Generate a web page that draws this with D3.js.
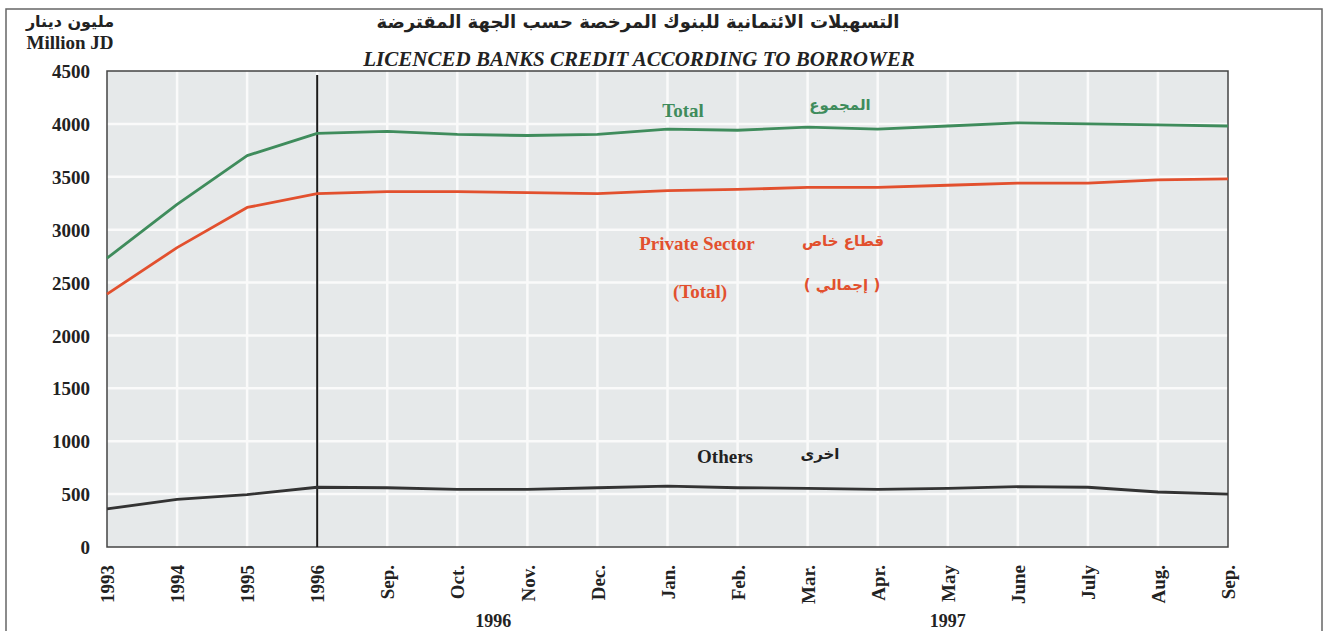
<!DOCTYPE html>
<html>
<head>
<meta charset="utf-8">
<script src="https://cdn.jsdelivr.net/npm/d3@7"></script>
<style>
  body { margin: 0; background: #fff; }
  svg { display: block; }
  text { font-family: "Liberation Serif", "Times New Roman", serif; font-weight: bold; }
  .ar { font-family: "DejaVu Sans", "Noto Sans", sans-serif; }
</style>
</head>
<body>
<div id="chart"></div>
<script>
// Licenced banks credit according to borrower (million JD)
const categories = ["1993", "1994", "1995", "1996", "Sep.", "Oct.", "Nov.", "Dec.", "Jan.", "Feb.", "Mar.", "Apr.", "May", "June", "July", "Aug.", "Sep2"];
const tickLabels = ["1993", "1994", "1995", "1996", "Sep.", "Oct.", "Nov.", "Dec.", "Jan.", "Feb.", "Mar.", "Apr.", "May", "June", "July", "Aug.", "Sep."];
const totalValues = [2730, 3240, 3700, 3910, 3930, 3900, 3890, 3900, 3950, 3940, 3970, 3950, 3980, 4010, 4000, 3990, 3980];
const privateValues = [2390, 2830, 3210, 3340, 3360, 3360, 3350, 3340, 3370, 3380, 3400, 3400, 3420, 3440, 3440, 3470, 3480];
const othersValues = [360, 450, 495, 565, 560, 545, 545, 560, 575, 560, 555, 545, 555, 570, 565, 520, 500];
const yTicks = [0, 500, 1000, 1500, 2000, 2500, 3000, 3500, 4000, 4500];
const yearGroups = [{label: "1996", at: "Oct.", dx: 36}, {label: "1997", at: "May", dx: 0}];

const width = 1326, height = 631;
const plot = {left: 107, right: 1228, top: 71, bottom: 547};

const svg = d3.select('#chart').append('svg')
  .attr('width', width)
  .attr('height', height);

const x = d3.scalePoint()
  .domain(categories)
  .range([plot.left, plot.right])
  .padding(0);

const y = d3.scaleLinear()
  .domain([0, 4500])
  .range([plot.bottom, plot.top]);

// outer frame
svg.append('rect')
  .attr('x', 6).attr('y', 9)
  .attr('width', 1316).attr('height', 640)
  .attr('fill', 'none')
  .attr('stroke', '#666')
  .attr('stroke-width', 1.5);

// plot background
svg.append('rect')
  .attr('x', plot.left).attr('y', plot.top)
  .attr('width', plot.right - plot.left).attr('height', plot.bottom - plot.top)
  .attr('fill', '#e6e9ea');

// white grid
svg.append('g').selectAll('line')
  .data(yTicks.slice(1, -1)).enter().append('line')
  .attr('x1', plot.left).attr('x2', plot.right)
  .attr('y1', d => y(d)).attr('y2', d => y(d))
  .attr('stroke', '#fafafa').attr('stroke-width', 2.5);

svg.append('g').selectAll('line')
  .data(categories.slice(1, -1)).enter().append('line')
  .attr('x1', d => x(d)).attr('x2', d => x(d))
  .attr('y1', plot.top).attr('y2', plot.bottom)
  .attr('stroke', '#fafafa').attr('stroke-width', 2.5);

// plot border
svg.append('rect')
  .attr('x', plot.left).attr('y', plot.top)
  .attr('width', plot.right - plot.left).attr('height', plot.bottom - plot.top)
  .attr('fill', 'none')
  .attr('stroke', '#444')
  .attr('stroke-width', 1.5);

// separator at 1996
svg.append('line')
  .attr('x1', x("1996")).attr('x2', x("1996"))
  .attr('y1', plot.top + 4).attr('y2', plot.bottom)
  .attr('stroke', '#1a1a1a').attr('stroke-width', 2);

// axes
const yAxis = svg.append('g')
  .attr('transform', `translate(${plot.left - 17},0)`)
  .call(d3.axisLeft(y).tickValues(yTicks).tickSize(0).tickFormat(d3.format('d')));
yAxis.select('.domain').remove();
yAxis.selectAll('text')
  .attr('x', 0)
  .attr('dy', '0.35em')
  .style('font-size', '19px')
  .style('font-family', '"Liberation Serif", serif')
  .style('font-weight', 'bold')
  .attr('fill', '#222');

const xAxis = svg.append('g')
  .attr('transform', `translate(0,${plot.bottom})`)
  .call(d3.axisBottom(x).tickSize(0).tickFormat((d, i) => tickLabels[i]));
xAxis.select('.domain').remove();
xAxis.selectAll('text')
  .attr('transform', 'rotate(-90)')
  .attr('x', -18)
  .attr('y', 0)
  .attr('dy', '0.35em')
  .attr('text-anchor', 'end')
  .style('font-size', '19px')
  .style('font-family', '"Liberation Serif", serif')
  .style('font-weight', 'bold')
  .attr('fill', '#222');

svg.append('g').selectAll('text')
  .data(yearGroups).enter().append('text')
  .attr('x', d => x(d.at) + d.dx)
  .attr('y', 627)
  .attr('text-anchor', 'middle')
  .style('font-size', '18px')
  .attr('fill', '#222')
  .text(d => d.label);

// lines
const line = d3.line()
  .x((d, i) => x(categories[i]))
  .y(d => y(d));

const series = [
  {values: totalValues, color: '#3f8c5c'},
  {values: privateValues, color: '#e2502e'},
  {values: othersValues, color: '#333'}
];

svg.append('g').selectAll('path')
  .data(series).enter().append('path')
  .attr('d', d => line(d.values))
  .attr('fill', 'none')
  .attr('stroke', d => d.color)
  .attr('stroke-width', 2.8)
  .attr('stroke-linejoin', 'round');

// titles
svg.append('text')
  .attr('class', 'ar')
  .attr('x', 638).attr('y', 28)
  .attr('text-anchor', 'middle')
  .style('font-size', '18px')
  .attr('fill', '#222')
  .text('التسهيلات الائتمانية للبنوك المرخصة حسب الجهة المقترضة');

svg.append('text')
  .attr('x', 639).attr('y', 66)
  .attr('text-anchor', 'middle')
  .style('font-size', '21px')
  .style('font-style', 'italic')
  .attr('fill', '#222')
  .text('LICENCED BANKS CREDIT ACCORDING TO BORROWER');

svg.append('text')
  .attr('class', 'ar')
  .attr('x', 70).attr('y', 27)
  .attr('text-anchor', 'middle')
  .style('font-size', '16px')
  .attr('fill', '#222')
  .text('مليون دينار');

svg.append('text')
  .attr('x', 70).attr('y', 49)
  .attr('text-anchor', 'middle')
  .style('font-size', '19px')
  .attr('fill', '#222')
  .text('Million JD');

// series labels
const labels = [
  {text: 'Total', x: 683, y: 117, color: '#3f8c5c', ar: false},
  {text: 'المجموع', x: 840, y: 110, color: '#3f8c5c', ar: true},
  {text: 'Private Sector', x: 697, y: 250, color: '#e2502e', ar: false},
  {text: '(Total)', x: 700, y: 298, color: '#e2502e', ar: false},
  {text: 'قطاع خاص', x: 843, y: 246, color: '#e2502e', ar: true},
  {text: '( إجمالي )', x: 842, y: 290, color: '#e2502e', ar: true},
  {text: 'Others', x: 725, y: 463, color: '#222', ar: false},
  {text: 'اخرى', x: 820, y: 459, color: '#222', ar: true}
];

svg.append('g').selectAll('text')
  .data(labels).enter().append('text')
  .attr('class', d => d.ar ? 'ar' : null)
  .attr('x', d => d.x).attr('y', d => d.y)
  .attr('text-anchor', 'middle')
  .style('font-size', d => d.ar ? '15px' : '19px')
  .attr('fill', d => d.color)
  .text(d => d.text);
</script>
</body>
</html>
